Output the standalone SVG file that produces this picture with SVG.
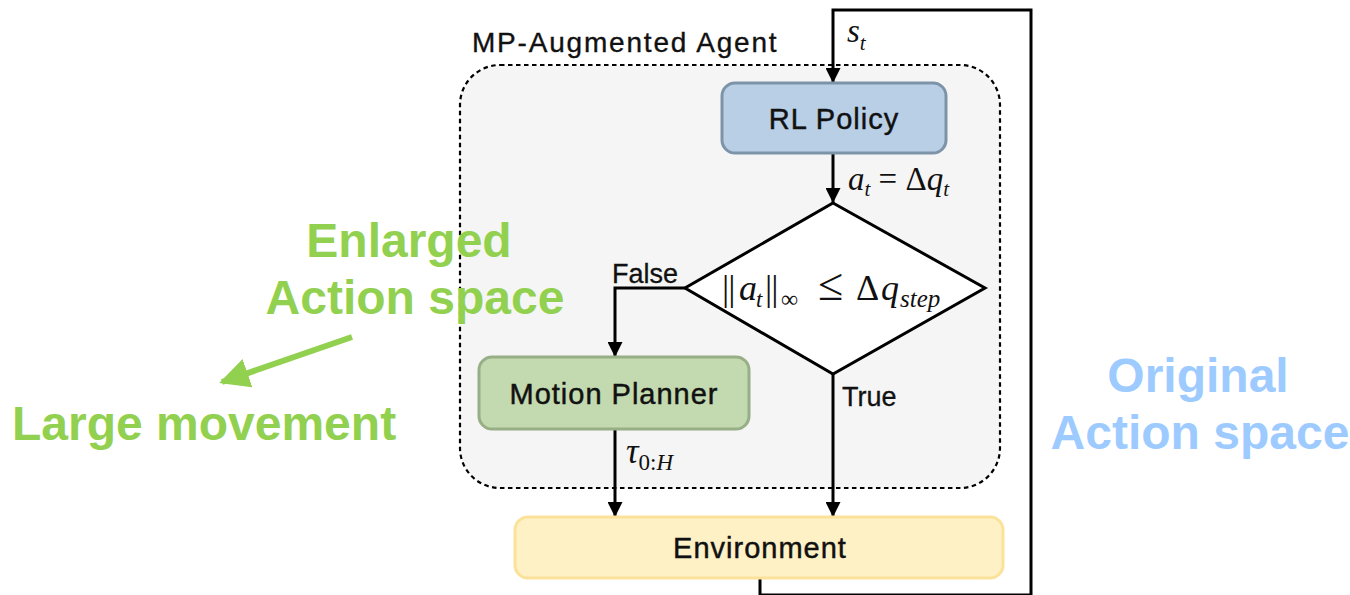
<svg xmlns="http://www.w3.org/2000/svg" width="1350" height="595" viewBox="0 0 1350 595">
<style>
.sans{font-family:"Liberation Sans",Arial,sans-serif;}
.math{font-family:"Liberation Serif","Times New Roman",serif;fill:#111;}
.it{font-style:italic;}
.node{font-size:29px;fill:#111;text-anchor:middle;letter-spacing:1px;stroke:#111;stroke-width:0.45px;}
.lbl{font-size:27px;fill:#111;stroke:#111;stroke-width:0.3px;}
.big{font-size:48px;font-weight:bold;text-anchor:middle;}
.conn{stroke:#000;stroke-width:3;fill:none;}
</style>
<defs>
<marker id="ah" viewBox="0 0 10 10" refX="10" refY="5" markerWidth="5" markerHeight="5" markerUnits="strokeWidth" orient="auto">
<path d="M0,0 L10,5 L0,10 z" fill="#000"/>
</marker>
<marker id="gah" viewBox="0 0 10 10" refX="9" refY="5" markerWidth="5" markerHeight="5" markerUnits="strokeWidth" orient="auto">
<path d="M0,0 L10,5 L0,10 z" fill="#92d050"/>
</marker>
</defs>
<rect width="1350" height="595" fill="#fff"/>

<g id="agent">
<rect x="460" y="65" width="540" height="423" rx="40" fill="#f5f5f5" stroke="#000" stroke-width="2.2" stroke-dasharray="4.5 3.5"/>
<text class="sans" x="472" y="52" font-size="28" fill="#111" stroke="#111" stroke-width="0.35" letter-spacing="1.8">MP-Augmented Agent</text>
</g>

<g id="connectors">
<path class="conn" d="M760,578 V595 H1031 V10 H833 V83" marker-end="url(#ah)"/>
<path class="conn" d="M833,153 V203" marker-end="url(#ah)"/>
<path class="conn" d="M685,288 H615 V357" marker-end="url(#ah)"/>
<path class="conn" d="M615,429 V517" marker-end="url(#ah)"/>
<path class="conn" d="M833,374 V517" marker-end="url(#ah)"/>
<text class="math it" x="847" y="42" font-size="33">s<tspan font-size="21" dy="8">t</tspan></text>
<text class="math" x="848" y="190" font-size="33"><tspan class="it">a</tspan><tspan class="it" font-size="21" dy="6">t</tspan><tspan dy="-6"> = Δ</tspan><tspan class="it">q</tspan><tspan class="it" font-size="21" dy="6">t</tspan></text>
<text class="sans lbl" x="612" y="283">False</text>
<text class="sans lbl" x="842" y="406">True</text>
<text class="math" x="626" y="463" font-size="35"><tspan class="it">τ</tspan><tspan font-size="23" dy="7">0:</tspan><tspan class="it" font-size="23">H</tspan></text>
</g>

<g id="rl-policy">
<rect x="722" y="83" width="224" height="70" rx="13" fill="#b8cfe6" stroke="#7d93a8" stroke-width="3"/>
<text class="sans node" x="834" y="129">RL Policy</text>
</g>

<g id="decision">
<polygon points="833,203 985,288 833,374 685,288" fill="#fff" stroke="#000" stroke-width="3"/>
<text class="math" y="300" font-size="36"><tspan x="722" letter-spacing="-1">||</tspan><tspan class="it" x="739">a</tspan><tspan class="it" font-size="23" x="756" dy="7">t</tspan><tspan x="765" dy="-7" letter-spacing="-1">||</tspan><tspan font-size="24" x="781" dy="7">∞</tspan><tspan x="818" dy="-7" font-size="46">≤</tspan><tspan x="856">Δ</tspan><tspan class="it" x="881">q</tspan><tspan class="it" font-size="25" x="900" dy="7">step</tspan></text>
</g>

<g id="motion-planner">
<rect x="479" y="357" width="270" height="72" rx="13" fill="#c3d9af" stroke="#97ae86" stroke-width="3"/>
<text class="sans node" x="614" y="404">Motion Planner</text>
</g>

<g id="environment">
<rect x="515" y="517" width="488" height="61" rx="13" fill="#fff1c6" stroke="#fbe199" stroke-width="3"/>
<text class="sans node" x="760" y="558">Environment</text>
</g>

<g id="annotations">
<text class="sans big" x="409" y="257" fill="#92d050">Enlarged</text>
<text class="sans big" x="415" y="314" fill="#92d050">Action space</text>
<line x1="352" y1="337" x2="222" y2="382" stroke="#92d050" stroke-width="6" marker-end="url(#gah)"/>
<text class="sans big" x="12" y="440" fill="#92d050" style="text-anchor:start">Large movement</text>
<text class="sans big" x="1198" y="392" fill="#9dcbff">Original</text>
<text class="sans big" x="1200" y="449" fill="#9dcbff">Action space</text>
</g>
</svg>
